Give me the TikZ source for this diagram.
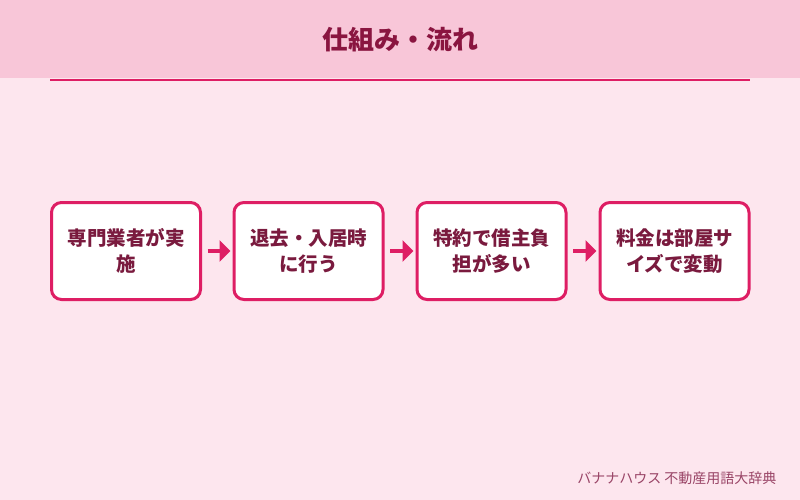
\documentclass[tikz,border=0pt]{standalone}
\usepackage{fontspec}
\newfontfamily\cjk{Noto Sans CJK JP}
\usetikzlibrary{arrows.meta}
\definecolor{bgpink}{HTML}{FDE6EE}
\definecolor{headpink}{HTML}{F8C6D8}
\definecolor{accent}{HTML}{DE1E64}
\definecolor{titlec}{HTML}{8A1540}
\definecolor{textc}{HTML}{7A1A3E}
\definecolor{footc}{HTML}{994466}
\tikzset{
  stepbox/.style={draw=accent, line width=3pt, fill=white, rounded corners=10pt,
    minimum width=149pt, minimum height=97pt, inner sep=0pt, align=center,
    font=\cjk\bfseries\fontsize{19.5pt}{26pt}\selectfont, text=textc},
  flow/.style={draw=accent, line width=4pt, -{Triangle[length=11pt,width=21pt]}}
}
\begin{document}
\begin{tikzpicture}[x=1pt,y=-1pt]
\useasboundingbox (0,0) rectangle (800,500);
\fill[bgpink] (0,0) rectangle (800,500);
\fill[headpink] (0,0) rectangle (800,78);
\draw[accent, line width=2pt] (50,80.5) -- (750,80.5);
\node[font=\cjk\bfseries\fontsize{26pt}{30pt}\selectfont, text=titlec] (title) at (400,40) {仕組み・流れ};
\node[stepbox] (b1) at (126,251) {専門業者が実\\施};
\node[stepbox] (b2) at (308.5,251) {退去・入居時\\に行う};
\node[stepbox] (b3) at (491.5,251) {特約で借主負\\担が多い};
\node[stepbox] (b4) at (674.5,251) {料金は部屋サ\\イズで変動};
\draw[flow] ([xshift=5.5pt]b1.east) -- ([xshift=-2pt]b2.west);
\draw[flow] ([xshift=5.5pt]b2.east) -- ([xshift=-2pt]b3.west);
\draw[flow] ([xshift=5.5pt]b3.east) -- ([xshift=-2pt]b4.west);
\node[anchor=east, font=\cjk\fontsize{14pt}{16pt}\selectfont, text=footc] (foot) at (780,478) {バナナハウス 不動産用語大辞典};
\end{tikzpicture}
\end{document}
